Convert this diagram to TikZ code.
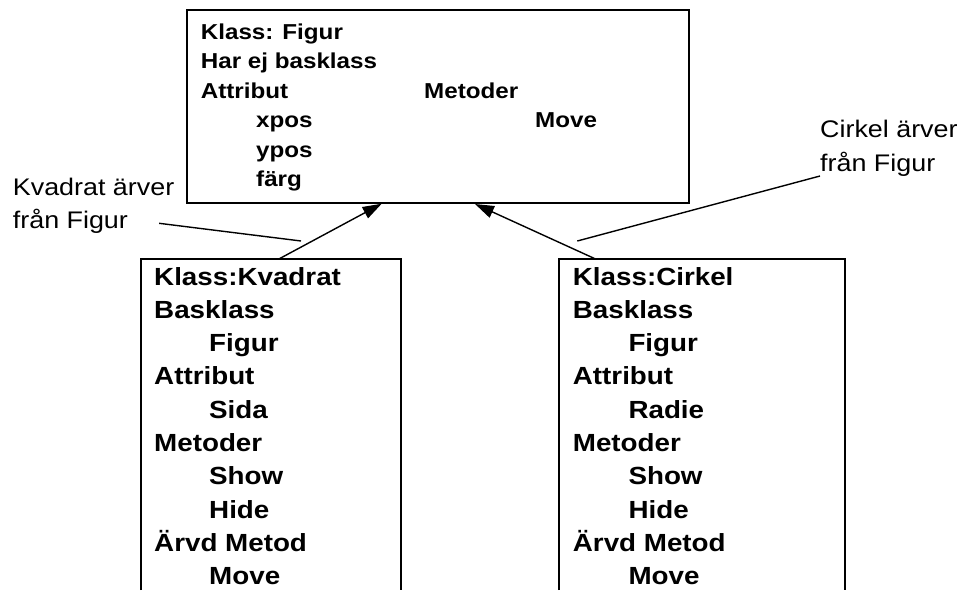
\documentclass[tikz,border=0pt]{standalone}
\usepackage{fontspec}
\setmainfont{Liberation Sans}[FakeStretch=1.12]
\usetikzlibrary{arrows.meta,calc}
\begin{document}
\begin{tikzpicture}[x=1pt,y=-1pt,
  boxline/.style={line width=2pt},
  link/.style={line width=1.4pt},
  inherit/.style={link,-{Triangle[length=19pt,width=12.5pt]}},
  topt/.style={anchor=base west,inner sep=0pt,font=\bfseries\fontsize{21.6}{26}\selectfont},
  bott/.style={anchor=base west,inner sep=0pt,font=\bfseries\fontsize{24.8}{30}\selectfont},
  lbl/.style={anchor=base west,inner sep=0pt,font=\fontsize{24}{30}\selectfont},
  frame/.style={inner sep=0pt,outer sep=0pt}]
\useasboundingbox[fill=white] (0,0) rectangle (961,590);

% top class box
\node[frame,draw,boxline,minimum width=501.5pt,minimum height=193.2pt] (figur) at (437.75,106.1) {};
% bottom class boxes (open at the bottom)
\node[frame,minimum width=259.5pt,minimum height=331pt] (kvadrat) at (270.75,424.7) {};
\node[frame,minimum width=286.5pt,minimum height=331pt] (cirkel) at (701.75,424.7) {};
\draw[boxline] (kvadrat.south west) -- (kvadrat.north west) -- (kvadrat.north east) -- (kvadrat.south east);
\draw[boxline] (cirkel.south west) -- (cirkel.north west) -- (cirkel.north east) -- (cirkel.south east);

% top box text
\node[topt] (f1) at (200.7,39.3) {Klass: Figur};
\node[topt] (f2) at (200.7,68.8) {Har ej basklass};
\node[topt] (f3) at (200.7,98.3) {Attribut};
\node[topt] (f4) at (424,98.3) {Metoder};
\node[topt] (f5) at (256,127.8) {xpos};
\node[topt] (f6) at (535,127.8) {Move};
\node[topt] (f7) at (256,157.3) {ypos};
\node[topt] (f8) at (256,186.8) {färg};

% Kvadrat text
\node[bott] (k1) at (154,285) {Klass:Kvadrat};
\node[bott] (k2) at (154,318.3) {Basklass};
\node[bott] (k3) at (209,351.6) {Figur};
\node[bott] (k4) at (154,384.9) {Attribut};
\node[bott] (k5) at (209,418.2) {Sida};
\node[bott] (k6) at (154,451.5) {Metoder};
\node[bott] (k7) at (209,484.8) {Show};
\node[bott] (k8) at (209,518.1) {Hide};
\node[bott] (k9) at (154,551.4) {Ärvd Metod};
\node[bott] (k10) at (209,584.7) {Move};

% Cirkel text
\node[bott] (c1) at (572.7,285) {Klass:Cirkel};
\node[bott] (c2) at (572.7,318.3) {Basklass};
\node[bott] (c3) at (628.3,351.6) {Figur};
\node[bott] (c4) at (572.7,384.9) {Attribut};
\node[bott] (c5) at (628.3,418.2) {Radie};
\node[bott] (c6) at (572.7,451.5) {Metoder};
\node[bott] (c7) at (628.3,484.8) {Show};
\node[bott] (c8) at (628.3,518.1) {Hide};
\node[bott] (c9) at (572.7,551.4) {Ärvd Metod};
\node[bott] (c10) at (628.3,584.7) {Move};

% inheritance arrows
\draw[inherit] ($(kvadrat.north west)+(137.5,0)$) -- ($(figur.south west)+(194.7,1)$);
\draw[inherit] ($(cirkel.north west)+(37.5,0)$) -- ($(figur.south west)+(288,1.3)$);

% labels with leader lines
\node[lbl] (kl1) at (12.7,195) {Kvadrat ärver};
\node[lbl] (kl2) at (12.7,228.3) {från Figur};
\node[lbl] (cl1) at (820,137.3) {Cirkel ärver};
\node[lbl] (cl2) at (820,171.7) {från Figur};
\coordinate (kend) at (301,241);
\coordinate (cend) at (577.3,241);
\draw[link] ($(kl2.base east)+(31,-5)$) -- (kend);
\draw[link] ($(cl2.base west)+(0,4.3)$) -- (cend);
\end{tikzpicture}
\end{document}
